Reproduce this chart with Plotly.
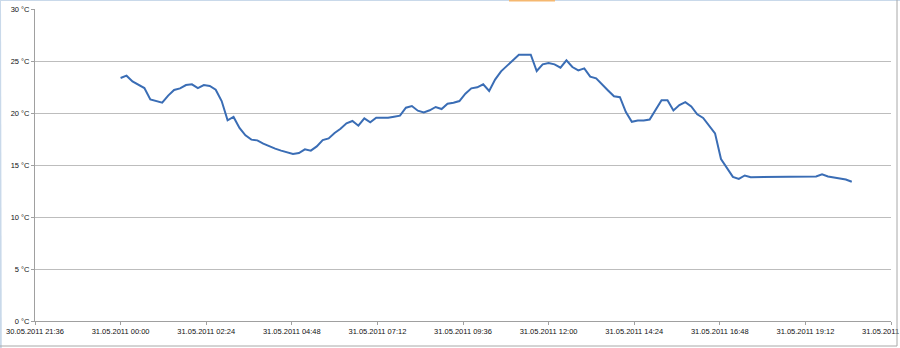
import pandas as pd
import plotly.graph_objects as go

# ---- data ----
start_time = "2011-05-31 00:00"
step = "10min"
temperatures = [
    23.37, 23.59, 23.04, 22.69, 22.40, 21.31, 21.12, 20.99, 21.67, 22.21,
    22.37, 22.69, 22.76, 22.40, 22.69, 22.60, 22.24, 21.15, 19.29, 19.62,
    18.56, 17.85, 17.44, 17.37, 17.05, 16.79, 16.57, 16.38, 16.19, 16.06,
    16.15, 16.51, 16.38, 16.79, 17.40, 17.56, 18.08, 18.49, 19.01, 19.23,
    18.78, 19.49, 19.10, 19.55, 19.55, 19.55, 19.65, 19.74, 20.51, 20.67,
    20.22, 20.06, 20.26, 20.58, 20.38, 20.90, 20.99, 21.15, 21.86, 22.37,
    22.47, 22.76, 22.12, 23.21, 24.01, 24.52, 25.06, 25.60, 25.60, 25.60,
    24.04, 24.68, 24.81, 24.68, 24.36, 25.06, 24.42, 24.10, 24.29, 23.49,
    23.33, 22.72, 22.17, 21.61, 21.52, 20.09, 19.15, 19.27, 19.27, 19.37,
    20.32, 21.23, 21.23, 20.25, 20.76, 21.04, 20.63, 19.87, 19.53, 18.83,
    18.04, 15.57, 14.75, 13.86, 13.67, 13.99, 13.83, 13.83, 13.86, 13.86,
    13.86, 13.83, 13.83, 13.86, 13.89, 13.86, 13.83, 13.89, 14.11, 13.89,
    13.80, 13.70, 13.61, 13.39,
]
times = pd.date_range(start_time, periods=len(temperatures), freq=step)

x_tick_start = "2011-05-30 21:36"
x_tick_step = "144min"
x_tick_count = 11
x_ticks = pd.date_range(x_tick_start, periods=x_tick_count, freq=x_tick_step)

y_ticks = [0, 5, 10, 15, 20, 25, 30]
y_labels = [f"{v} °C" for v in y_ticks]

# ---- figure ----
W, H = 900, 348
ML, MR, MT, MB = 35, 9, 9, 27
pw, ph = W - ML - MR, H - MT - MB

fig = go.Figure()
fig.add_trace(go.Scatter(
    x=times, y=temperatures, mode="lines",
    line=dict(color="#3a6db5", width=2),
    hoverinfo="skip", showlegend=False,
))

font = dict(family="Liberation Sans, Arial, sans-serif", size=7.5, color="#111111")

fig.update_layout(
    width=W, height=H,
    margin=dict(l=ML, r=MR, t=MT, b=MB, autoexpand=False),
    paper_bgcolor="white", plot_bgcolor="white",
    font=font,
    xaxis=dict(
        range=[x_ticks[0], x_ticks[-1]],
        tickmode="array", tickvals=x_ticks,
        ticktext=[t.strftime("%d.%m.%Y %H:%M") for t in x_ticks],
        showgrid=False, showline=True, linecolor="#a0a0a0", linewidth=1,
        ticks="outside", ticklen=3, tickcolor="#a0a0a0",
        tickfont=font, tickangle=0, automargin=False, zeroline=False,
        ticklabeloverflow="allow",
    ),
    yaxis=dict(
        range=[0, 30], tickmode="array", tickvals=y_ticks, ticktext=y_labels,
        showgrid=True, gridcolor="#bdbdbd", gridwidth=1,
        showline=True, linecolor="#a0a0a0", linewidth=1,
        ticks="outside", ticklen=3, tickcolor="#a0a0a0",
        tickfont=font, automargin=False, zeroline=False,
        ticklabeloverflow="allow",
    ),
)

# page border / chrome
def px_to_paper_x(px):
    return (px - ML) / pw

def px_to_paper_y(py):
    return (H - MB - py) / ph

border = [
    (0, 0, 0.8, H, "#c9d9ea", 2),          # left
    (0, 0.5, W, 0.5, "#c9d9ea", 1),        # top
    (0, 346, 897, 346, "#a8a8a8", 1),      # bottom
    (897, 0, 897, 346, "#a8a8a8", 1),      # right
]
for x0, y0, x1, y1, c, w in border:
    fig.add_shape(type="line", xref="paper", yref="paper",
                  x0=px_to_paper_x(x0), y0=px_to_paper_y(y0),
                  x1=px_to_paper_x(x1), y1=px_to_paper_y(y1),
                  line=dict(color=c, width=w), layer="above")
fig.add_shape(type="rect", xref="paper", yref="paper",
              x0=px_to_paper_x(509), x1=px_to_paper_x(555),
              y0=px_to_paper_y(1.5), y1=px_to_paper_y(0),
              fillcolor="#f5b870", line=dict(width=0), layer="above")

fig.write_html("out.html")
